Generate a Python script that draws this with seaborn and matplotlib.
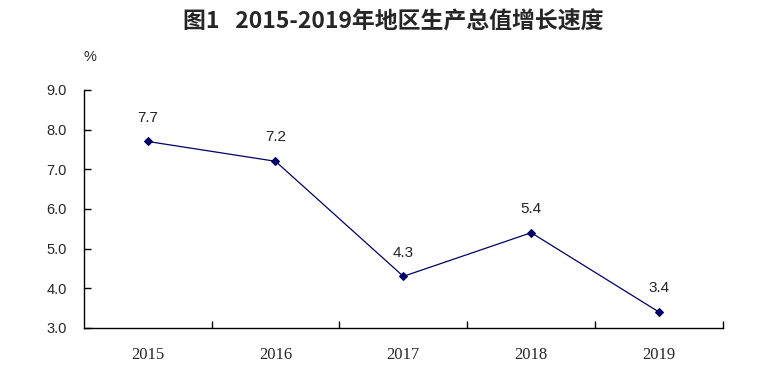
import pandas as pd
import matplotlib.pyplot as plt
import seaborn as sns

years = ["2015", "2016", "2017", "2018", "2019"]
growth = [7.7, 7.2, 4.3, 5.4, 3.4]
y_ticks = [3.0, 4.0, 5.0, 6.0, 7.0, 8.0, 9.0]

df = pd.DataFrame({"year": years, "growth": growth})
df["pos"] = range(len(years))

sns.set_style("white")
plt.rcParams["font.family"] = ["Liberation Sans", "Noto Sans CJK SC"]

fig = plt.figure(figsize=(7.61, 3.89), dpi=100)
ax = fig.add_axes([0.110, 0.157, 0.840, 0.612])

sns.lineplot(data=df, x="pos", y="growth", ax=ax, color="#000066", linewidth=0.9,
             marker="D", markersize=4.5, markeredgecolor="#000066")

for x, v in zip(df["pos"], df["growth"]):
    ax.text(x, v + 0.6, f"{v:.1f}", ha="center", va="center", fontsize=11, color="#222222")

ax.set_xlim(-0.5, len(years) - 0.5)
ax.set_ylim(3.0, 9.0)
ax.set_yticks(y_ticks)
ax.set_yticklabels([f"{t:.1f}" for t in y_ticks], fontsize=10.5)
ax.set_xticks([i + 0.5 for i in range(len(years))])
ax.set_xticklabels([])
ax.set_xticks(range(len(years)), minor=True)
ax.set_xticklabels(years, minor=True, fontsize=12, family="Liberation Serif")
ax.tick_params(axis="x", which="major", bottom=True, direction="in", length=5, width=1, color="black")
ax.tick_params(axis="x", which="minor", bottom=True, length=0, pad=14)
ax.tick_params(axis="y", left=True, direction="in", length=5, width=1, color="black", pad=12)
ax.set_xlabel("")
ax.set_ylabel("")

for side in ["top", "right"]:
    ax.spines[side].set_visible(False)
for side in ["left", "bottom"]:
    ax.spines[side].set_color("black")
    ax.spines[side].set_linewidth(1)

fig.text(90 / 761, 1 - 57 / 389, "%", ha="center", va="center", fontsize=10.5)
fig.text(393 / 761, 1 - 22 / 389, "图1   2015-2019年地区生产总值增长速度", ha="center", va="center",
         fontsize=16.5, fontweight="bold", family=["Noto Sans CJK SC", "DejaVu Sans"])

fig.savefig("out.png", dpi=100, facecolor="white")
